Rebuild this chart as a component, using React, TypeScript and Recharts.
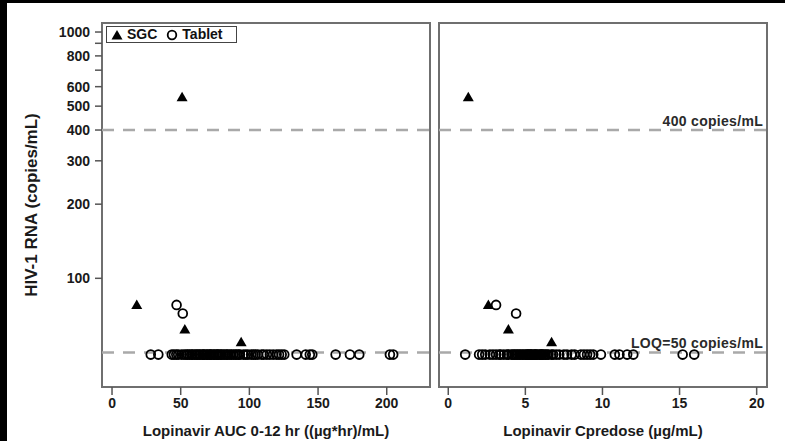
import {
  ScatterChart,
  Scatter,
  XAxis,
  YAxis,
  ReferenceLine,
  ReferenceArea,
  Legend,
  Label,
} from "recharts";

const FONT = "'Liberation Sans', Arial, Helvetica, sans-serif";

// y axis (log scale, copies/mL)
const yTicks = [100, 200, 300, 400, 500, 600, 700, 800, 900, 1000];
const yTickLabels = ["100", "200", "300", "400", "500", "600", "", "800", "", "1000"];
const yDomain = [36.2, 1088];

const aucTicks = [0, 50, 100, 150, 200];
const aucDomain = [-7.3, 231.5];
const cpreTicks = [0, 5, 10, 15, 20];
const cpreDomain = [-0.6, 20.67];

const LOQ = 50;
const UPPER = 400;
const BELOW_LOQ_PLOT = 49; // undetectable results plotted just under the LOQ line

// SGC patients (same patient order in both panels)
const sgcRna = [543, 78, 62, 55];
const sgcAuc = [51, 18, 53, 94];
const sgcCpre = [1.3, 2.6, 3.9, 6.7];

// Tablet patients with detectable RNA
const tabletRna = [78, 72];
const tabletAuc = [47, 51.5];
const tabletCpre = [3.1, 4.4];

// Tablet patients below LOQ
const tabletBlqAuc = [
  28.2, 33.7, 43.5, 45.1, 46.8, 48.2, 50.6, 52.4, 53.9, 55.1, 56.3, 57.7, 58.6,
  59.9, 61.2, 62.0, 63.4, 64.1, 65.7, 66.5, 67.2, 68.8, 69.4, 70.9, 71.6, 72.3,
  73.8, 74.5, 75.9, 76.7, 77.4, 78.8, 79.6, 80.9, 82.1, 83.5, 84.2, 85.8, 86.9,
  88.3, 89.7, 90.8, 92.2, 93.1, 95.6, 97.4, 99.0, 101.3, 102.8, 104.5, 106.2,
  108.9, 110.4, 112.7, 114.9, 117.3, 119.8, 121.6, 123.5, 125.4, 134.4, 141.0,
  144.0, 145.8, 162.8, 173.2, 180.0, 202.3, 204.7,
];
const tabletBlqCpre = [
  1.1, 2.0, 2.2, 2.4, 2.7, 2.9, 3.1, 3.3, 3.4, 3.6, 3.8, 3.9, 4.1, 4.2, 4.3,
  4.4, 4.5, 4.6, 4.7, 4.8, 4.9, 5.0, 5.1, 5.15, 5.2, 5.3, 5.35, 5.4, 5.5, 5.6,
  5.65, 5.7, 5.8, 5.9, 6.0, 6.05, 6.1, 6.2, 6.3, 6.4, 6.5, 6.7, 6.8, 7.0, 7.2,
  7.5, 7.7, 8.0, 8.2, 8.6, 8.8, 9.0, 9.2, 9.4, 9.9, 10.8, 11.1, 11.6, 12.0,
  15.2, 15.95,
];

const sgcAucData = sgcAuc.map((x, i) => ({ x, y: sgcRna[i] }));
const sgcCpreData = sgcCpre.map((x, i) => ({ x, y: sgcRna[i] }));
const tabletAucData = [
  ...tabletAuc.map((x, i) => ({ x, y: tabletRna[i] })),
  ...tabletBlqAuc.map((x) => ({ x, y: BELOW_LOQ_PLOT })),
];
const tabletCpreData = [
  ...tabletCpre.map((x, i) => ({ x, y: tabletRna[i] })),
  ...tabletBlqCpre.map((x) => ({ x, y: BELOW_LOQ_PLOT })),
];

const Triangle = (props: any) => {
  const { cx, cy } = props;
  return (
    <polygon
      points={`${cx},${cy - 5.5} ${cx + 5.5},${cy + 4} ${cx - 5.5},${cy + 4}`}
      fill="#000"
    />
  );
};

const Ring = (props: any) => (
  <circle cx={props.cx} cy={props.cy} r={4.4} fill="none" stroke="#000" strokeWidth={1.8} />
);

const tickStyle = {
  fill: "#1a1a1a",
  fontSize: 14,
  fontWeight: 700,
  fontFamily: FONT,
};
const tickLine = { stroke: "#555", strokeWidth: 1.5 };
const dashed = { stroke: "#a9a9a9", strokeWidth: 2.5, strokeDasharray: "12 9" };

const LegendBox = (props: any) => {
  const payload = props.payload || [];
  return (
    <div
      style={{
        display: "flex",
        alignItems: "center",
        border: "1.5px solid #444",
        padding: "0 5px 0 3px",
        height: 15,
        fontFamily: FONT,
        fontWeight: 700,
        fontSize: 14,
        color: "#111",
        background: "#fff",
        lineHeight: "15px",
      }}
    >
      {payload.map((p: any) => (
        <span key={p.value} style={{ display: "flex", alignItems: "center", marginRight: 8 }}>
          <svg width={14} height={12} style={{ marginRight: 3 }}>
            {p.value === "SGC" ? (
              <polygon points="7,1 12.5,10.5 1.5,10.5" fill="#000" />
            ) : (
              <circle cx={7} cy={6} r={4.3} fill="none" stroke="#000" strokeWidth={1.8} />
            )}
          </svg>
          {p.value}
        </span>
      ))}
    </div>
  );
};

const YTitle = (props: any) => {
  const vb = props.viewBox || { x: 0, y: 23, width: 102, height: 364 };
  const cx = vb.x + 31;
  const cy = vb.y + vb.height / 2;
  return (
    <text
      x={cx}
      y={cy}
      transform={`rotate(-90 ${cx} ${cy})`}
      textAnchor="middle"
      dominantBaseline="central"
      fill="#1a1a1a"
      fontSize={17}
      fontWeight={700}
      fontFamily={FONT}
    >
      HIV-1 RNA (copies/mL)
    </text>
  );
};

const refLabel = (value: string) => ({
  value,
  position: "insideBottomRight" as const,
  offset: 4,
  fill: "#2a2a2a",
  fontSize: 14,
  fontWeight: 700,
  fontFamily: FONT,
  letterSpacing: 0.3,
});

export default function App() {
  return (
    <div
      style={{
        position: "absolute",
        top: 0,
        left: 0,
        width: 785,
        height: 441,
        background: "#000",
        overflow: "hidden",
      }}
    >
      <div style={{ position: "absolute", left: 7, top: 3, right: 0, bottom: 0, background: "#fff" }} />

      <div style={{ position: "absolute", left: 0, top: 0 }}>
        <ScatterChart width={440} height={441} margin={{ top: 23, right: 10, bottom: 0, left: 0 }}>
          <XAxis
            type="number"
            dataKey="x"
            domain={aucDomain}
            ticks={aucTicks}
            interval={0}
            allowDataOverflow
            height={54}
            axisLine={false}
            tickSize={8}
            tickLine={tickLine}
            tick={tickStyle}
            tickMargin={3}
          >
            <Label
              value="Lopinavir AUC 0-12 hr ((µg*hr)/mL)"
              position="insideBottom"
              offset={5}
              fill="#1a1a1a"
              fontSize={15}
              fontWeight={700}
              fontFamily={FONT}
            />
          </XAxis>
          <YAxis
            type="number"
            dataKey="y"
            scale="log"
            domain={yDomain}
            ticks={yTicks}
            interval={0}
            tickFormatter={(v: number) => yTickLabels[yTicks.indexOf(v)] ?? ""}
            allowDataOverflow
            width={102}
            axisLine={false}
            tickSize={7}
            tickLine={tickLine}
            tick={tickStyle}
            tickMargin={5}
          >
            <Label content={<YTitle />} />
          </YAxis>
          <ReferenceLine y={UPPER} {...dashed} ifOverflow="visible" />
          <ReferenceLine y={LOQ} {...dashed} ifOverflow="visible" />
          <ReferenceArea
            x1={aucDomain[0]}
            x2={aucDomain[1]}
            y1={yDomain[0]}
            y2={yDomain[1]}
            fill="none"
            fillOpacity={0}
            stroke="#6f6f6f"
            strokeWidth={2}
            ifOverflow="visible"
          />
          <Scatter name="SGC" data={sgcAucData} shape={<Triangle />} isAnimationActive={false} />
          <Scatter name="Tablet" data={tabletAucData} shape={<Ring />} isAnimationActive={false} />
          <Legend
            layout="horizontal"
            verticalAlign="middle"
            align="center"
            content={<LegendBox />}
            wrapperStyle={{ top: 26, left: 106, width: "auto" }}
          />
        </ScatterChart>
      </div>

      <div style={{ position: "absolute", left: 430, top: 0 }}>
        <ScatterChart width={355} height={441} margin={{ top: 23, right: 18, bottom: 0, left: 9 }}>
          <XAxis
            type="number"
            dataKey="x"
            domain={cpreDomain}
            ticks={cpreTicks}
            interval={0}
            allowDataOverflow
            height={54}
            axisLine={false}
            tickSize={8}
            tickLine={tickLine}
            tick={tickStyle}
            tickMargin={3}
          >
            <Label
              value="Lopinavir Cpredose (µg/mL)"
              position="insideBottom"
              offset={5}
              fill="#1a1a1a"
              fontSize={15}
              fontWeight={700}
              fontFamily={FONT}
            />
          </XAxis>
          <YAxis
            type="number"
            dataKey="y"
            scale="log"
            domain={yDomain}
            ticks={yTicks}
            allowDataOverflow
            hide
          />
          <ReferenceLine y={UPPER} {...dashed} ifOverflow="visible" label={refLabel("400 copies/mL")} />
          <ReferenceLine y={LOQ} {...dashed} ifOverflow="visible" label={refLabel("LOQ=50 copies/mL")} />
          <ReferenceArea
            x1={cpreDomain[0]}
            x2={cpreDomain[1]}
            y1={yDomain[0]}
            y2={yDomain[1]}
            fill="none"
            fillOpacity={0}
            stroke="#6f6f6f"
            strokeWidth={2}
            ifOverflow="visible"
          />
          <Scatter name="SGC" data={sgcCpreData} shape={<Triangle />} isAnimationActive={false} />
          <Scatter name="Tablet" data={tabletCpreData} shape={<Ring />} isAnimationActive={false} />
        </ScatterChart>
      </div>
    </div>
  );
}
